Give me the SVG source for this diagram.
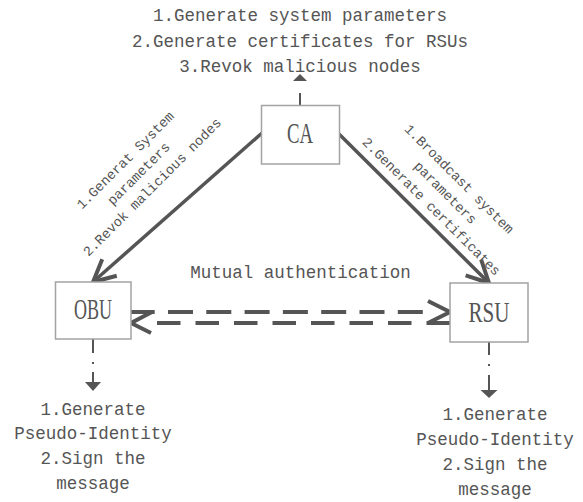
<svg xmlns="http://www.w3.org/2000/svg" width="583" height="502" viewBox="0 0 583 502">
  <style>
    .box { fill: #ffffff; stroke: #a3a3a3; stroke-width: 1.5; }
    .name { font-family: "Liberation Serif", serif; font-size: 29.5px; fill: #555555; text-anchor: middle; }
    .note { font-family: "Liberation Mono", monospace; font-size: 17.5px; fill: #555555; text-anchor: middle; }
    .small { font-family: "Liberation Mono", monospace; font-size: 13.7px; fill: #555555; text-anchor: middle; }
    .solid { fill: none; stroke: #555555; stroke-width: 3.5; }
    .dash { fill: none; stroke: #555555; stroke-width: 4; stroke-dasharray: 25 13.3; }
    .dashb { fill: none; stroke: #555555; stroke-width: 4; stroke-dasharray: 23.5 15; }
    .chev { fill: none; stroke: #555555; stroke-width: 4; stroke-linejoin: miter; }
    .thin { fill: none; stroke: #555555; stroke-width: 2; }
    .head { fill: #555555; stroke: none; }
  </style>
  <defs>
    <marker id="open" markerUnits="userSpaceOnUse" markerWidth="40" markerHeight="40" refX="0" refY="0" orient="auto" overflow="visible">
      <path d="M-22,-11 L0,0 L-22,11" fill="none" stroke="#555555" stroke-width="4"/>
    </marker>
  </defs>

  <!-- connectors -->
  <g id="connectors">
    <!-- CA to OBU and CA to RSU -->
    <path class="solid" d="M262,133 L93,282" marker-end="url(#open)"/>
    <path class="solid" d="M339,134 L489,283" marker-end="url(#open)"/>

    <!-- OBU to RSU (upper dashed) -->
    <path class="dash" stroke-dashoffset="1.3" d="M131,312 H423"/>
    <path class="chev" d="M428,301 L450,312 L428,323"/>
    <!-- RSU to OBU (lower dashed) -->
    <path class="dashb" d="M450,323 H152"/>
    <path class="chev" d="M152,312 L131,323 L151,333"/>

    <!-- CA outputs -->
    <path class="thin" d="M300,105 V93"/>
    <polygon class="head" points="300,74 307,81 293,81"/>

    <!-- OBU outputs -->
    <path class="thin" d="M93,339 V353 M93,362 V364 M93,372 V382"/>
    <polygon class="head" points="93,391 101,382 85,382"/>

    <!-- RSU outputs -->
    <path class="thin" d="M489,342 V355 M489,364 V366 M489,375 V390"/>
    <polygon class="head" points="489,398 497.5,390 480.5,390"/>
  </g>

  <!-- nodes -->
  <g id="CA">
    <rect class="box" x="261.5" y="105.5" width="78" height="58.5"/>
    <text class="name" x="300" y="143" textLength="26" lengthAdjust="spacingAndGlyphs">CA</text>
  </g>
  <g id="OBU">
    <rect class="box" x="55.5" y="282" width="75.5" height="57"/>
    <text class="name" x="93" y="319" textLength="38" lengthAdjust="spacingAndGlyphs">OBU</text>
  </g>
  <g id="RSU">
    <rect class="box" x="450" y="283" width="78" height="59"/>
    <text class="name" x="489" y="321.5" textLength="41" lengthAdjust="spacingAndGlyphs">RSU</text>
  </g>

  <!-- labels -->
  <g id="ca-tasks">
    <text class="note" x="300" y="21">1.Generate system parameters</text>
    <text class="note" x="300" y="46.5">2.Generate certificates for RSUs</text>
    <text class="note" x="300" y="71.5">3.Revok malicious nodes</text>
  </g>

  <g id="ca-obu-label" transform="translate(139,174) rotate(-45)">
    <text class="small" x="0" y="-15">1.Generat System</text>
    <text class="small" x="0" y="4">parameters</text>
    <text class="small" x="0" y="23">2.Revok malicious nodes</text>
  </g>

  <g id="ca-rsu-label" transform="translate(445,193) rotate(45)">
    <text class="small" x="0" y="-15.5">1.Broadcast system</text>
    <text class="small" x="0" y="4">parameters</text>
    <text class="small" x="0" y="23.5">2.Generate certificates</text>
  </g>

  <g id="mutual-label">
    <text class="note" x="300.5" y="278">Mutual authentication</text>
  </g>

  <g id="obu-tasks">
    <text class="note" x="93" y="414.5">1.Generate</text>
    <text class="note" x="93" y="439.2">Pseudo-Identity</text>
    <text class="note" x="93" y="463.9">2.Sign the</text>
    <text class="note" x="93" y="488.6">message</text>
  </g>

  <g id="rsu-tasks">
    <text class="note" x="495" y="420">1.Generate</text>
    <text class="note" x="495" y="445">Pseudo-Identity</text>
    <text class="note" x="495" y="470">2.Sign the</text>
    <text class="note" x="495" y="495">message</text>
  </g>
</svg>
